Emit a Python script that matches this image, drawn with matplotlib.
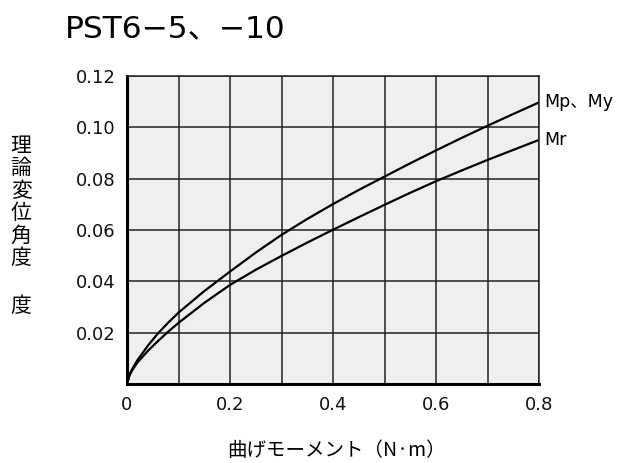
import matplotlib
matplotlib.use("Agg")
import matplotlib.pyplot as plt
import numpy as np

plt.rcParams['font.family'] = ['DejaVu Sans', 'Noto Sans CJK JP']

# values
moment = [0, 0.005, 0.01, 0.02, 0.04, 0.06, 0.08, 0.1, 0.15, 0.2, 0.25, 0.3, 0.35,
          0.4, 0.45, 0.5, 0.55, 0.6, 0.65, 0.7, 0.75, 0.8]
mp_my = [0, 0.0037, 0.0058, 0.0092, 0.0148, 0.0197, 0.0239, 0.0278, 0.0362, 0.0438,
         0.0512, 0.0581, 0.0643, 0.0701, 0.0756, 0.0808, 0.0860, 0.0910, 0.0959,
         0.1006, 0.1052, 0.1097]
mr = [0, 0.0034, 0.0053, 0.0083, 0.0128, 0.0167, 0.0204, 0.0238, 0.0316, 0.0386,
      0.0445, 0.0499, 0.0551, 0.0601, 0.0650, 0.0698, 0.0745, 0.0790, 0.0832,
      0.0873, 0.0912, 0.0951]

xticks = [0, 0.2, 0.4, 0.6, 0.8]
xtick_labels = ["0", "0.2", "0.4", "0.6", "0.8"]
yticks = [0.02, 0.04, 0.06, 0.08, 0.10, 0.12]
ytick_labels = ["0.02", "0.04", "0.06", "0.08", "0.10", "0.12"]

fig = plt.figure(figsize=(6.24, 4.63), dpi=100)
ax = fig.add_axes([127/624, 79/463, 412/624, 308/463])
ax.set_facecolor("#efefef")

ax.plot(moment, mp_my, color="black", lw=1.6, solid_joinstyle="round")
ax.plot(moment, mr, color="black", lw=1.6, solid_joinstyle="round")

ax.set_xlim(0, 0.8)
ax.set_ylim(0, 0.12)
ax.set_xticks(xticks)
ax.set_xticklabels(xtick_labels)
ax.set_xticks(np.arange(0.1, 0.8, 0.2), minor=True)
ax.set_yticks(yticks)
ax.set_yticklabels(ytick_labels)
ax.grid(True, which="both", color="#222222", lw=1.1)
ax.tick_params(which="both", length=0, labelsize=13, pad=8, colors="#111111")
ax.tick_params(axis="x", pad=9)
for s in ax.spines.values():
    s.set_linewidth(1.1)
    s.set_color("#222222")
ax.spines["left"].set_linewidth(2.2)
ax.spines["bottom"].set_linewidth(2.2)
ax.spines["left"].set_color("black")
ax.spines["bottom"].set_color("black")

ax.text(1.012, mp_my[-1] / 0.12, "Mp、My", transform=ax.transAxes,
        fontsize=12.5, va="center", ha="left")
ax.text(1.012, mr[-1] / 0.12, "Mr", transform=ax.transAxes,
        fontsize=12.5, va="center", ha="left")

fig.text(65/624, 1 - 29/463, "PST6−5、−10", fontsize=22.5, va="center", ha="left")
fig.text(336/624, 1 - 451/463, "曲げモーメント（N·m）", fontsize=14,
         va="center", ha="center", family=['Noto Sans CJK JP', 'DejaVu Sans'])

# vertical y label, one character per line
for i, ch in enumerate("理論変位角度"):
    fig.text(21/624, 1 - (146 + 22.4 * i)/463, ch, fontsize=15,
             va="center", ha="center", family=['Noto Sans CJK JP'])
fig.text(21/624, 1 - 306/463, "度", fontsize=15, va="center", ha="center",
         family=['Noto Sans CJK JP'])

fig.savefig("out.png", dpi=100)
